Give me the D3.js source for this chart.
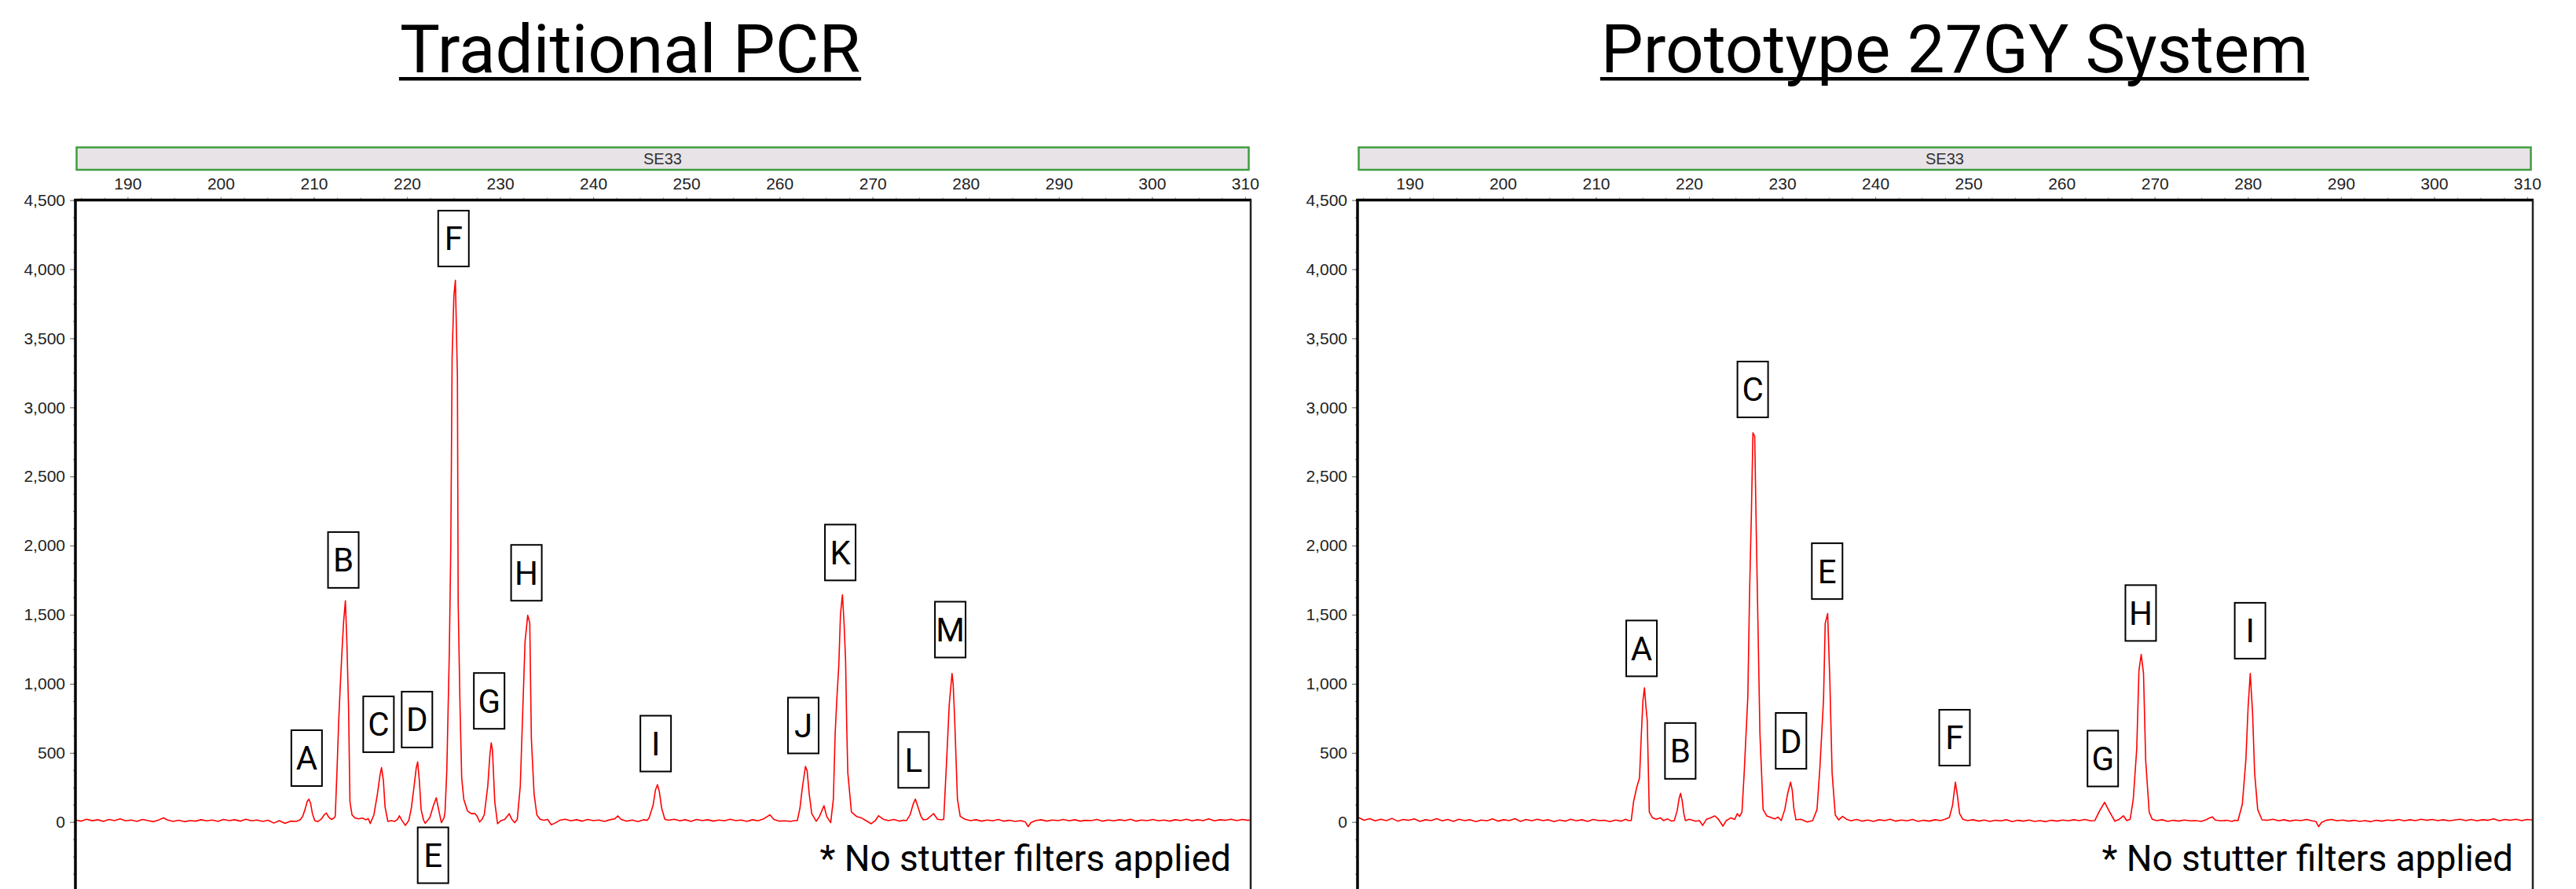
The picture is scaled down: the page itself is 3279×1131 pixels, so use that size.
<!DOCTYPE html>
<html>
<head>
<meta charset="utf-8">
<script src="https://cdn.jsdelivr.net/npm/d3@7"></script>
<style>
  body { margin: 0; background: #fff; }
  svg { display: block; }
</style>
</head>
<body>
<svg id="chart"></svg>
<script>
// peak traces, [size in bp, height in RFU]
var pcrTrace = [
  [184.4,14],[185.0,6],[185.6,20],[186.2,9],[186.8,16],[187.4,4],[188.0,18],[188.6,10],[189.2,22],[189.8,8],
  [190.4,14],[191.0,4],[191.6,18],[192.2,10],[192.8,2],[193.4,16],[193.85,30],[194.3,14],[194.9,4],[195.5,12],
  [196.1,2],[196.7,10],[197.3,6],[197.9,16],[198.5,8],[199.1,14],[199.7,4],[200.3,18],[200.9,10],[201.5,16],
  [202.1,6],[202.7,20],[203.3,8],[203.9,14],[204.5,4],[205.1,12],[205.7,-8],[206.3,10],[206.9,-10],[207.5,6],
  [208.1,4],[208.5,14],[208.8,40],[209.1,100],[209.3,150],[209.48,165],[209.65,135],[209.85,60],[210.1,10],[210.4,2],
  [210.8,20],[211.1,50],[211.35,65],[211.6,35],[211.9,18],[212.15,28],[212.3,40],[212.49,373],[212.67,726],[212.85,1000],
  [213.05,1269],[213.2,1450],[213.39,1601],[213.55,1300],[213.73,830],[213.88,146],[214.1,51],[214.4,30],[214.8,22],[215.2,28],
  [215.6,16],[215.85,24],[216.06,-11],[216.45,51],[216.83,203],[217.1,336],[217.27,393],[217.47,300],[217.65,108],[217.95,4],
  [218.3,10],[218.7,4],[219.0,20],[219.19,45],[219.45,12],[219.83,-25],[220.2,11],[220.47,100],[220.77,260],[221.0,393],
  [221.15,434],[221.33,300],[221.52,90],[221.78,14],[221.96,-10],[222.2,10],[222.46,32],[222.84,118],[223.15,175],[223.4,90],
  [223.7,-5],[223.98,30],[224.09,72],[224.28,373],[224.55,1228],[224.71,2005],[224.85,3366],[225.04,3807],[225.2,3920],[225.3,3600],
  [225.42,3218],[225.5,1587],[225.7,830],[225.88,318],[226.1,165],[226.5,80],[226.9,60],[227.3,61],[227.55,40],[227.8,0],
  [228.05,18],[228.3,51],[228.68,260],[228.9,480],[229.05,573],[229.18,520],[229.43,146],[229.73,-13],[230.1,10],[230.5,18],
  [230.98,60],[231.25,20],[231.57,-5],[231.85,20],[232.17,260],[232.42,772],[232.68,1303],[232.97,1496],[233.19,1438],[233.36,601],
  [233.65,203],[233.95,51],[234.3,20],[234.7,12],[235.1,18],[235.5,-20],[235.9,-8],[236.4,12],[237.0,20],[237.6,8],
  [238.2,16],[238.8,6],[239.4,18],[240.0,10],[240.6,14],[241.2,4],[241.8,16],[242.3,22],[242.64,44],[243.0,18],
  [243.6,6],[244.2,14],[244.8,2],[245.4,16],[245.8,12],[246.0,30],[246.43,120],[246.68,230],[246.9,270],[247.1,220],
  [247.35,100],[247.69,20],[248.1,12],[248.7,20],[249.3,8],[249.9,16],[250.5,4],[251.1,18],[251.7,10],[252.3,16],
  [252.9,6],[253.5,14],[254.1,8],[254.7,20],[255.3,10],[255.9,14],[256.5,4],[257.1,16],[257.7,8],[258.3,22],
  [258.97,52],[259.4,18],[260.0,6],[260.6,8],[261.2,4],[261.6,10],[261.92,10],[262.2,100],[262.46,250],[262.79,402],
  [262.97,370],[263.2,200],[263.47,60],[263.95,5],[264.3,40],[264.78,118],[265.07,40],[265.5,-5],[265.79,165],[265.98,640],
  [266.17,900],[266.37,1132],[266.55,1500],[266.76,1644],[266.93,1450],[267.1,1170],[267.22,700],[267.34,356],[267.73,71],[268.28,40],
  [268.78,30],[269.29,10],[269.85,-13],[270.3,10],[270.64,45],[271.14,20],[271.7,10],[272.3,18],[272.9,6],[273.3,12],
  [273.64,10],[274.02,50],[274.36,130],[274.6,165],[274.86,110],[275.2,40],[275.45,15],[275.87,20],[276.55,61],[276.97,20],
  [277.39,15],[277.64,20],[277.98,488],[278.23,848],[278.53,1075],[278.65,1000],[278.82,734],[279.11,165],[279.41,40],[279.92,20],
  [280.5,10],[281.1,16],[281.7,6],[282.3,14],[282.9,8],[283.5,18],[284.1,6],[284.7,12],[285.3,4],[285.9,10],
  [286.4,0],[286.7,-34],[287.0,-5],[287.5,10],[288.1,16],[288.7,6],[289.3,14],[289.9,10],[290.5,18],[291.1,8],
  [291.7,16],[292.3,6],[292.9,12],[293.5,10],[294.1,18],[294.7,6],[295.3,14],[295.9,8],[296.5,16],[297.1,10],
  [297.7,20],[298.3,6],[298.9,14],[299.5,10],[300.1,18],[300.7,8],[301.3,14],[301.9,6],[302.5,16],[303.1,10],
  [303.7,20],[304.3,8],[304.9,16],[305.5,10],[306.1,22],[306.7,8],[307.3,16],[307.9,12],[308.5,20],[309.1,10],
  [309.7,18],[310.3,12],[310.6,14]
];

var protoTrace = [
  [184.5,32],[185.1,12],[185.7,24],[186.3,8],[186.9,20],[187.5,10],[188.1,26],[188.7,6],[189.3,18],[189.9,12],
  [190.5,22],[191.1,4],[191.7,16],[192.3,10],[192.9,24],[193.5,8],[194.1,18],[194.7,4],[195.3,20],[195.9,10],
  [196.5,16],[197.1,2],[197.7,14],[198.3,8],[198.9,22],[199.5,6],[200.1,16],[200.7,10],[201.3,24],[201.9,4],
  [202.5,18],[203.1,8],[203.7,20],[204.3,10],[204.9,16],[205.5,2],[206.1,14],[206.7,6],[207.3,20],[207.9,8],
  [208.5,16],[209.1,4],[209.7,18],[210.3,10],[210.9,12],[211.5,2],[212.1,14],[212.7,6],[213.2,20],[213.5,10],
  [213.79,10],[214.04,146],[214.38,250],[214.68,318],[214.88,640],[215.05,880],[215.21,971],[215.35,850],[215.51,734],[215.73,71],
  [216.07,30],[216.49,20],[216.91,30],[217.25,10],[217.7,22],[218.1,6],[218.41,10],[218.72,80],[218.93,170],[219.09,207],
  [219.27,150],[219.44,60],[219.61,10],[220.03,20],[220.7,5],[221.12,10],[221.46,-25],[221.88,20],[222.3,30],[222.77,44],
  [223.15,20],[223.64,-30],[224.0,10],[224.5,30],[224.9,18],[225.18,60],[225.43,40],[225.68,71],[225.92,356],[226.31,905],
  [226.5,1667],[226.69,2223],[226.86,2816],[227.05,2791],[227.22,2090],[227.39,1464],[227.61,640],[227.95,90],[228.34,44],[228.89,30],
  [229.2,22],[229.56,35],[229.9,10],[230.28,90],[230.57,200],[230.9,288],[231.08,230],[231.25,100],[231.48,15],[232.0,20],
  [232.68,0],[233.27,10],[233.74,90],[234.05,393],[234.44,886],[234.62,1436],[234.88,1508],[235.12,1018],[235.36,356],[235.7,51],
  [236.06,15],[236.48,40],[236.9,20],[237.4,8],[238.0,18],[238.6,6],[239.2,14],[239.8,4],[240.4,16],[241.0,10],
  [241.6,20],[242.2,6],[242.8,14],[243.4,8],[244.0,18],[244.6,4],[245.2,12],[245.8,6],[246.4,16],[247.0,10],
  [247.5,20],[247.95,32],[248.29,120],[248.6,288],[248.8,200],[249.05,60],[249.39,20],[249.9,10],[250.5,16],[251.1,6],
  [251.7,14],[252.3,4],[252.9,12],[253.5,8],[254.1,16],[254.7,2],[255.3,12],[255.9,6],[256.5,14],[257.1,4],
  [257.7,10],[258.3,2],[258.9,12],[259.5,6],[260.1,14],[260.7,8],[261.3,16],[261.9,10],[262.5,18],[263.1,8],
  [263.57,10],[264.08,80],[264.62,142],[265.1,80],[265.73,5],[266.2,20],[266.65,44],[267.0,10],[267.37,20],[267.7,165],
  [268.07,527],[268.31,1096],[268.55,1212],[268.8,1075],[269.03,449],[269.41,71],[269.73,20],[270.2,10],[270.8,16],[271.4,4],
  [272.0,12],[272.6,6],[273.2,14],[273.8,8],[274.4,10],[275.0,4],[275.6,18],[275.9,30],[276.2,36],[276.5,14],
  [277.1,8],[277.7,12],[278.3,4],[278.6,12],[278.94,10],[279.41,128],[279.79,449],[280.03,830],[280.26,1075],[280.51,791],
  [280.73,356],[281.06,90],[281.52,15],[282.1,12],[282.7,20],[283.3,8],[283.9,16],[284.5,6],[285.1,14],[285.7,10],
  [286.3,18],[286.9,8],[287.3,4],[287.6,-34],[287.9,-5],[288.4,12],[289.0,18],[289.6,8],[290.2,14],[290.8,6],
  [291.4,12],[292.0,4],[292.6,10],[293.2,2],[293.8,12],[294.4,6],[295.0,14],[295.6,10],[296.2,18],[296.8,8],
  [297.4,16],[298.0,10],[298.6,20],[299.2,12],[299.8,18],[300.4,10],[301.0,16],[301.6,8],[302.2,14],[302.8,20],
  [303.4,10],[304.0,18],[304.6,8],[305.2,16],[305.8,12],[306.4,22],[307.0,8],[307.6,18],[308.2,12],[308.8,20],
  [309.4,10],[310.0,18],[310.6,14]
];

// peak letters and where their boxes sit (bp, RFU of the box centre)
var pcrLabels = [
  ["A",209.23,462],["B",213.17,1896],["C",216.95,707],["D",221.08,741],["E",222.8,-241],
  ["F",225.0,4222],["G",228.83,876],["H",232.83,1803],["I",246.71,567],["J",262.56,698],
  ["K",266.53,1950],["L",274.4,449],["M",278.34,1392]
];
var protoLabels = [
  ["A",214.9,1256],["B",219.06,514],["C",226.84,3130],["D",230.95,587],["E",234.83,1815],
  ["F",248.51,610],["G",264.43,459],["H",268.5,1512],["I",280.24,1384]
];

var sizeTicks = d3.range(190, 311, 10);
var rfuTicks = d3.range(0, 4501, 500);
var markerName = "SE33";
var note = "* No stutter filters applied";

var W = 3279, H = 1131;
var svg = d3.select("#chart").attr("width", W).attr("height", H);
svg.append("rect").attr("width", W).attr("height", H).attr("fill", "#fff");

var x = d3.scaleLinear().domain([184.4, 310.6]).range([96, 1592]);
var y = d3.scaleLinear().domain([0, 4500]).range([1045.7, 254.6]);
var plotTop = y(4500);

var line = d3.line()
  .x(function(d) { return x(d[0]); })
  .y(function(d) { return y(d[1]); });

function panel(offset, id, title, titleX, trace, labels) {
  var g = svg.append("g").attr("transform", "translate(" + offset + ",0)");

  // title
  var t = svg.append("text")
    .attr("x", titleX).attr("y", 92)
    .attr("text-anchor", "middle")
    .style("font-family", "Roboto")
    .style("font-size", "85.5px")
    .attr("fill", "#000")
    .text(title);
  var bb = t.node().getBBox();
  svg.append("rect")
    .attr("x", bb.x - 1).attr("y", 98)
    .attr("width", bb.width + 2).attr("height", 4.5)
    .attr("fill", "#000");

  // marker bar
  g.append("rect")
    .attr("x", 97.5).attr("y", 187.5)
    .attr("width", 1492).attr("height", 28.5)
    .attr("fill", "#e7e3e7")
    .attr("stroke", "#3f9d3f")
    .attr("stroke-width", 2.5);
  g.append("text")
    .attr("x", 843.5).attr("y", 209)
    .attr("text-anchor", "middle")
    .style("font-family", "Liberation Sans, Arial")
    .style("font-size", "20px")
    .attr("fill", "#333")
    .text(markerName);

  // x axis on top
  var minorX = g.append("g").attr("transform", "translate(0," + plotTop + ")")
    .call(d3.axisTop(x).tickValues(d3.range(185, 311, 2.5)).tickSize(3).tickFormat(""));
  minorX.select(".domain").remove();
  minorX.selectAll("line").attr("stroke", "#888");

  var xAxis = g.append("g").attr("transform", "translate(0," + plotTop + ")")
    .call(d3.axisTop(x).tickValues(sizeTicks).tickSize(4).tickPadding(10));
  xAxis.select(".domain").remove();
  xAxis.selectAll("line").attr("stroke", "#888");
  xAxis.selectAll("text")
    .style("font-family", "Liberation Sans, Arial")
    .style("font-size", "21px")
    .attr("fill", "#222");

  // y axis
  var minorY = g.append("g").attr("transform", "translate(96,0)")
    .call(d3.axisLeft(y).tickValues(d3.range(-375, 4501, 125)).tickSize(3).tickFormat(""));
  minorY.select(".domain").remove();
  minorY.selectAll("line").attr("stroke", "#777");

  var yAxis = g.append("g").attr("transform", "translate(96,0)")
    .call(d3.axisLeft(y).tickValues(rfuTicks).tickSize(7).tickPadding(6).tickFormat(d3.format(",")));
  yAxis.select(".domain").remove();
  yAxis.selectAll("line").attr("stroke", "#666");
  yAxis.selectAll("text")
    .style("font-family", "Liberation Sans, Arial")
    .style("font-size", "21px")
    .attr("fill", "#222");

  // trace
  g.append("clipPath").attr("id", id)
    .append("rect").attr("x", 96).attr("y", plotTop).attr("width", 1496).attr("height", H - plotTop);
  g.append("path")
    .datum(trace)
    .attr("clip-path", "url(#" + id + ")")
    .attr("d", line)
    .attr("fill", "none")
    .attr("stroke", "#ff0000")
    .attr("stroke-width", 1.6)
    .attr("stroke-linejoin", "round");

  // frame
  g.append("line").attr("x1", 94.5).attr("x2", 1593).attr("y1", plotTop).attr("y2", plotTop)
    .attr("stroke", "#000").attr("stroke-width", 3.5);
  g.append("line").attr("x1", 96).attr("x2", 96).attr("y1", plotTop - 1.5).attr("y2", H)
    .attr("stroke", "#000").attr("stroke-width", 3.5);
  g.append("line").attr("x1", 1592).attr("x2", 1592).attr("y1", plotTop).attr("y2", H)
    .attr("stroke", "#222").attr("stroke-width", 2.5);

  // peak letters
  var lab = g.selectAll(".peak").data(labels).enter().append("g")
    .attr("class", "peak")
    .attr("transform", function(d) { return "translate(" + x(d[1]) + "," + y(d[2]) + ")"; });
  lab.append("rect")
    .attr("x", -19.5).attr("y", -35.5)
    .attr("width", 39).attr("height", 71)
    .attr("fill", "#fff")
    .attr("stroke", "#000")
    .attr("stroke-width", 2);
  lab.append("text")
    .attr("y", 15)
    .attr("text-anchor", "middle")
    .style("font-family", "Roboto")
    .style("font-size", "42px")
    .attr("fill", "#000")
    .text(function(d) { return d[0]; });

  g.append("text")
    .attr("x", 1567).attr("y", 1108)
    .attr("text-anchor", "end")
    .style("font-family", "Roboto")
    .style("font-size", "46px")
    .attr("fill", "#000")
    .text(note);
}

panel(0, "clipA", "Traditional PCR", 802, pcrTrace, pcrLabels);
panel(1632, "clipB", "Prototype 27GY System", 2488, protoTrace, protoLabels);
</script>
</body>
</html>
